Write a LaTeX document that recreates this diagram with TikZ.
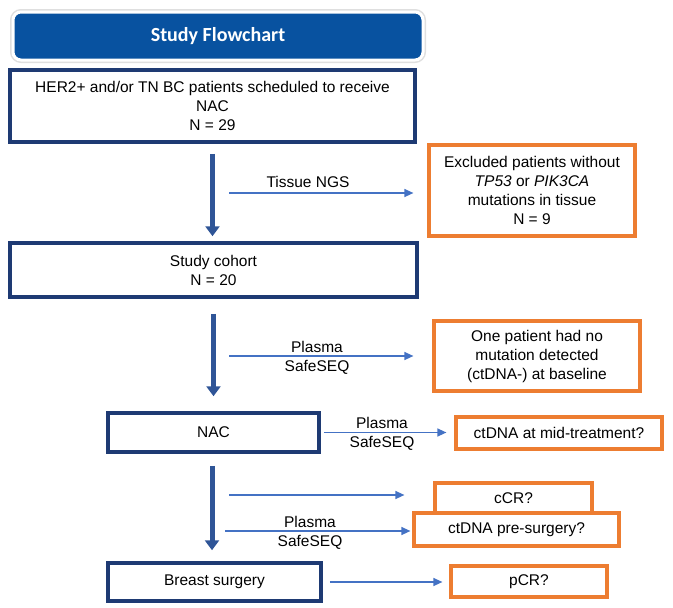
\documentclass[tikz,border=0pt]{standalone}
\usepackage{fontspec}
\setmainfont{Liberation Sans}
\newfontfamily\titlefont{Carlito}
\usetikzlibrary{arrows.meta}

\definecolor{navy}{RGB}{30,58,115}
\definecolor{banner}{RGB}{8,82,160}
\definecolor{orng}{RGB}{237,125,49}
\definecolor{thinblue}{RGB}{68,114,196}
\definecolor{thickblue}{RGB}{47,85,151}

\tikzset{
  bluebox/.style={draw=navy, line width=3.5pt, fill=white, align=center, inner sep=2pt},
  orangebox/.style={draw=orng, line width=3.2pt, fill=white, align=center, inner sep=2pt},
  flow/.style={thickblue, line width=5pt, -{Triangle[width=14pt,length=10pt]}},
  side/.style={thinblue, line width=1.3pt, -{Triangle[width=8pt,length=9pt]}},
  lbl/.style={align=center, inner sep=0pt},
}

\begin{document}
\begin{tikzpicture}[x=1pt, y=-1pt, font=\fontsize{15.5}{19}\selectfont]
        \useasboundingbox (0,0) rectangle (673,608);
        % title banner
        \node[fill=banner, draw=white, line width=3pt, rounded corners=8pt,
              preaction={draw=gray!25, line width=6pt, rounded corners=8pt},
              minimum width=410pt, minimum height=48pt, text=white,
              font=\titlefont\bfseries\fontsize{20}{22}\selectfont] (title) at (218,36) {Study Flowchart};
        % main column
        \node[bluebox, minimum width=405pt, minimum height=72pt] (her) at (212.5,106)
            {HER2+ and/or TN BC patients scheduled to receive\\NAC\\N = 29};
        \node[bluebox, minimum width=407pt, minimum height=54pt] (cohort) at (213.5,270)
            {Study cohort\\N = 20};
        \node[bluebox, minimum width=211pt, minimum height=39pt] (nac) at (213.5,432.5) {NAC};
        \node[bluebox, minimum width=213pt, minimum height=38pt] (surg) at (214.5,582) {Breast surgery};
        % side boxes
        \node[orangebox, minimum width=206pt, minimum height=91pt] (excl) at (532,190.5)
            {Excluded patients without\\\textit{TP53} or \textit{PIK3CA}\\mutations in tissue\\N = 9};
        \node[orangebox, minimum width=206pt, minimum height=70pt] (one) at (537,356)
            {One patient had no\\mutation detected\\(ctDNA-) at baseline};
        \node[orangebox, minimum width=206pt, minimum height=32pt] (mid) at (559,433) {ctDNA at mid-treatment?};
        \node[orangebox, minimum width=157pt, minimum height=30pt] (ccr) at (513.5,498) {cCR?};
        \node[orangebox, minimum width=205pt, minimum height=33pt] (pre) at (516.5,529.5) {ctDNA pre-surgery?};
        \node[orangebox, minimum width=156pt, minimum height=31pt] (pcr) at (529,581.5) {pCR?};
        % vertical flow
        \draw[flow, shorten <=10pt, shorten >=5pt] (her.south) -- (her.south |- cohort.north);
        \draw[flow, shorten <=15pt, shorten >=15pt] (cohort.south) -- (cohort.south |- nac.north);
        \draw[flow, shorten <=12pt, shorten >=11pt] ([xshift=-1.5pt]nac.south) -- ([xshift=-1.5pt]nac.south |- surg.north);
        % side arrows
        \coordinate (t1) at (229,193);
        \coordinate (p1) at (229,356);
        \coordinate (c1) at (229,495);
        \coordinate (p2) at (225,531);
        \draw[side, shorten >=14pt] (t1) -- (t1 -| excl.west);
        \draw[side, shorten >=19pt] (p1) -- (p1 -| one.west);
        \draw[side, shorten <=3pt, shorten >=8pt] (nac.east) -- (nac.east -| mid.west);
        \draw[side, shorten >=29pt] (c1) -- (c1 -| ccr.west);
        \draw[side, shorten >=2pt] (p2) -- (p2 -| pre.west);
        \draw[side, shorten <=7pt, shorten >=7pt] (surg.east) -- (surg.east -| pcr.west);
        % arrow labels
        \node[lbl] (ltissue) at (308,182) {Tissue NGS};
        \node[lbl] (lplasma1) at (317,357.5) {Plasma\\SafeSEQ};
        \node[lbl] (lplasma2) at (382,433.5) {Plasma\\SafeSEQ};
        \node[lbl] (lplasma3) at (310,532.5) {Plasma\\SafeSEQ};
\end{tikzpicture}
\end{document}
